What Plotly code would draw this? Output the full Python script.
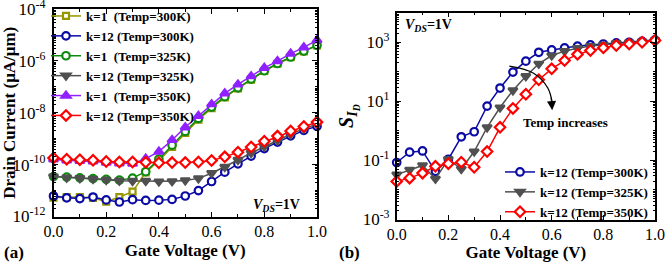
import numpy as np
import plotly.graph_objects as go

# ---------------- data ----------------
gate_v = [0.0, 0.05, 0.1, 0.15, 0.2, 0.25, 0.3, 0.35, 0.4, 0.45, 0.5,
          0.55, 0.6, 0.65, 0.7, 0.75, 0.8, 0.85, 0.9, 0.95, 1.0]

# (a) drain current, log10(uA/um)
log_id_k1_300 = [-11.27, -11.25, -11.25, -11.28, -11.43, -11.25, -11.04, -10.30, -9.85, -9.32, -8.78,
                 -8.27, -7.82, -7.41, -7.06, -6.72, -6.39, -6.11, -5.86, -5.63, -5.40]
log_id_k12_300 = [-11.21, -11.28, -11.31, -11.25, -11.36, -11.44, -11.35, -11.38, -11.37, -11.34, -11.21,
                  -11.00, -10.65, -10.29, -9.97, -9.67, -9.38, -9.13, -8.89, -8.68, -8.52]
log_id_k1_325 = [-10.46, -10.48, -10.51, -10.54, -10.57, -10.60, -10.52, -10.27, -9.79, -9.25, -8.72,
                 -8.22, -7.78, -7.38, -7.04, -6.70, -6.38, -6.10, -5.85, -5.62, -5.40]
log_id_k12_325 = [-10.46, -10.50, -10.52, -10.55, -10.59, -10.62, -10.63, -10.63, -10.65, -10.64, -10.61,
                  -10.53, -10.33, -10.09, -9.82, -9.55, -9.30, -9.07, -8.83, -8.61, -8.44]
log_id_k1_350 = [-9.80, -9.84, -9.86, -9.88, -9.92, -9.95, -9.96, -9.77, -9.50, -9.05, -8.56,
                 -8.12, -7.67, -7.25, -6.91, -6.59, -6.27, -6.01, -5.72, -5.48, -5.20]
log_id_k12_350 = [-9.74, -9.79, -9.81, -9.83, -9.88, -9.90, -9.90, -9.91, -9.93, -9.92, -9.92,
                  -9.90, -9.84, -9.70, -9.52, -9.32, -9.10, -8.90, -8.70, -8.53, -8.36]

# (b) sensitivity S_ID, log10
log_s_300 = [-1.07, -0.72, -0.68, -1.37, -0.96, -0.20, -0.03, 0.84, 1.45, 1.99, 2.36,
             2.66, 2.74, 2.81, 2.87, 2.91, 2.94, 2.98, 3.00, 3.03, 3.08]
log_s_325 = [-1.48, -1.32, -1.17, -1.62, -0.96, -1.29, -0.70, 0.12, 0.79, 1.37, 1.85,
             2.27, 2.55, 2.70, 2.80, 2.87, 2.91, 2.97, 2.99, 3.02, 3.06]
log_s_350 = [-1.71, -1.60, -1.43, -1.20, -1.11, -1.06, -1.23, -0.70, 0.12, 0.76, 1.24,
             1.73, 2.10, 2.38, 2.59, 2.72, 2.81, 2.89, 2.94, 3.00, 3.06]

# tick labels
ya_tickexp = [-12, -10, -8, -6, -4]
yb_tickexp = [-3, -1, 1, 3]
x_ticks = [0.0, 0.2, 0.4, 0.6, 0.8, 1.0]

# curved "Temp increases" arrow path (x, log10 y)
arrow_x = [0.436, 0.53, 0.585, 0.602]
arrow_logy = [2.19, 1.95, 1.45, 0.95]

# ---------------- styles ----------------
FONT = "Liberation Serif"
OLIVE = "#969600"
BLUE = "#0A0AA5"
GREEN = "#0C8C0C"
GRAY = "#505050"
PURPLE = "#9020FF"
RED = "#FF0000"


def to_lin(v):
    return [10 ** a for a in v]


fig = go.Figure()


def add(x, y, name, color, symbol, xa, ya, legend, fill="white", size=7.5):
    fig.add_trace(go.Scatter(
        x=x, y=to_lin(y), name="<b>" + name + "</b>", mode="lines+markers",
        xaxis=xa, yaxis=ya, legend=legend, cliponaxis=False,
        line=dict(color=color, width=1.5),
        marker=dict(symbol=symbol, size=size, color=fill,
                    line=dict(color=color, width=2.2)),
    ))


add(gate_v, log_id_k1_300, "k=1  (Temp=300K)", OLIVE, "square", "x", "y", "legend", size=6)
add(gate_v, log_id_k12_300, "k=12 (Temp=300K)", BLUE, "circle", "x", "y", "legend")
add(gate_v, log_id_k1_325, "k=1  (Temp=325K)", GREEN, "circle", "x", "y", "legend")
add(gate_v, log_id_k12_325, "k=12 (Temp=325K)", GRAY, "triangle-down", "x", "y", "legend", fill=GRAY, size=8)
add(gate_v, log_id_k1_350, "k=1  (Temp=350K)", PURPLE, "triangle-up", "x", "y", "legend", fill=PURPLE, size=8)
add(gate_v, log_id_k12_350, "k=12 (Temp=350K)", RED, "diamond", "x", "y", "legend", size=8)

add(gate_v, log_s_300, "k=12 (Temp=300K)", BLUE, "circle", "x2", "y2", "legend2")
add(gate_v, log_s_325, "k=12 (Temp=325K)", GRAY, "triangle-down", "x2", "y2", "legend2", fill=GRAY, size=8)
add(gate_v, log_s_350, "k=12 (Temp=350K)", RED, "diamond", "x2", "y2", "legend2", size=8)

# curved arrow body
fig.add_trace(go.Scatter(
    x=arrow_x, y=to_lin(arrow_logy), mode="lines", xaxis="x2", yaxis="y2",
    line=dict(color="black", width=1.3, shape="spline"), showlegend=False,
    hoverinfo="skip"))

W, H = 666, 266


def px_x(p):
    return p / W


def px_y(p):
    return 1 - p / H


def x_axis(standoff):
    return dict(
        range=[0, 1.0], tickvals=x_ticks, ticktext=[f"{v:.1f}" for v in x_ticks],
        showline=True, mirror="ticks", linecolor="black", linewidth=1.5,
        ticks="inside", ticklen=5, tickwidth=1.2, tickcolor="black",
        minor=dict(dtick=0.1, tick0=0, ticks="inside", ticklen=3, tickcolor="black", tickwidth=1),
        showgrid=False, zeroline=False, ticklabeloverflow="allow", automargin=False,
        tickfont=dict(family=FONT, size=16, color="black"),
        title=dict(text="<b>Gate Voltage (V)</b>", font=dict(family=FONT, size=17, color="black"),
                   standoff=standoff),
    )


common_y = dict(
    type="log",
    showline=True, mirror="ticks", linecolor="black", linewidth=1.5,
    ticks="inside", ticklen=5, tickwidth=1.2, tickcolor="black",
    minor=dict(dtick="D1", ticks="inside", ticklen=2.5, tickcolor="black", tickwidth=0.8),
    showgrid=False, zeroline=False, ticklabeloverflow="allow", automargin=False,
    tickfont=dict(family=FONT, size=17, color="black"),
)

fig.update_layout(
    width=W, height=H, autosize=False,
    margin=dict(l=0, r=0, t=0, b=0),
    paper_bgcolor="white", plot_bgcolor="white",
    font=dict(family=FONT, color="black"),
    xaxis=dict(domain=[px_x(53.5), px_x(317)], anchor="y", **x_axis(5)),
    yaxis=dict(domain=[px_y(216.5), px_y(9)], anchor="x", range=[-12, -3.999],
               tickvals=[10 ** e for e in ya_tickexp],
               ticktext=[f"10<sup>{e}</sup>" for e in ya_tickexp],
               ticklabelstandoff=3,
               title=dict(text="<b>Drain Current (μA/μm)</b>", font=dict(family=FONT, size=17, color="black"), standoff=0),
               **common_y),
    xaxis2=dict(domain=[px_x(396.7), px_x(655)], anchor="y2", **x_axis(2)),
    yaxis2=dict(domain=[px_y(219.5), px_y(12.7)], anchor="x2", range=[-3, 4],
                tickvals=[10 ** e for e in yb_tickexp],
                ticktext=[f"10<sup>{e}</sup>" for e in yb_tickexp],
                ticklabelstandoff=2,
                title=dict(text="<b><i>S</i></b><sub><b><i>I</i></b><sub><b><i>D</i></b></sub></sub>", font=dict(family=FONT, size=20, color="black"), standoff=4),
                **common_y),
    legend=dict(x=px_x(46), y=px_y(1), xanchor="left", yanchor="top",
                bgcolor="rgba(0,0,0,0)", borderwidth=0,
                font=dict(family=FONT, size=13, color="black"),
                tracegroupgap=0, itemwidth=30),
    legend2=dict(x=px_x(500), y=px_y(157), xanchor="left", yanchor="top",
                 bgcolor="rgba(0,0,0,0)", borderwidth=0,
                 font=dict(family=FONT, size=13, color="black"),
                 tracegroupgap=0, itemwidth=30),
    showlegend=True,
)

annots = [
    dict(text="<b><i>V</i><sub><i>DS</i></sub>=1V</b>", xref="paper", yref="paper",
         x=px_x(302), y=px_y(205), xanchor="right", yanchor="middle", showarrow=False,
         font=dict(family=FONT, size=14, color="black")),
    dict(text="<b><i>V</i><sub><i>DS</i></sub>=1V</b>", xref="paper", yref="paper",
         x=px_x(403), y=px_y(25), xanchor="left", yanchor="middle", showarrow=False,
         font=dict(family=FONT, size=14, color="black")),
    dict(text="<b>(a)</b>", xref="paper", yref="paper", x=px_x(2), y=px_y(252),
         xanchor="left", yanchor="middle", showarrow=False,
         font=dict(family=FONT, size=17, color="black")),
    dict(text="<b>(b)</b>", xref="paper", yref="paper", x=px_x(337), y=px_y(252),
         xanchor="left", yanchor="middle", showarrow=False,
         font=dict(family=FONT, size=17, color="black")),
    dict(text="<b>Temp increases</b>", xref="x2", yref="y2", x=0.655, y=0.3,
         xanchor="center", yanchor="middle", showarrow=False,
         font=dict(family=FONT, size=13, color="black")),
    dict(text="", xref="x2", yref="y2", x=arrow_x[-1], y=0.70,
         ax=-1, ay=-14, showarrow=True, arrowhead=2, arrowsize=1.4, arrowwidth=1.3,
         arrowcolor="black"),
]
fig.update_layout(annotations=annots)

fig.write_html("out.html", config={"displayModeBar": False},
               post_script="document.body.style.margin='0';document.body.style.overflow='hidden';")
